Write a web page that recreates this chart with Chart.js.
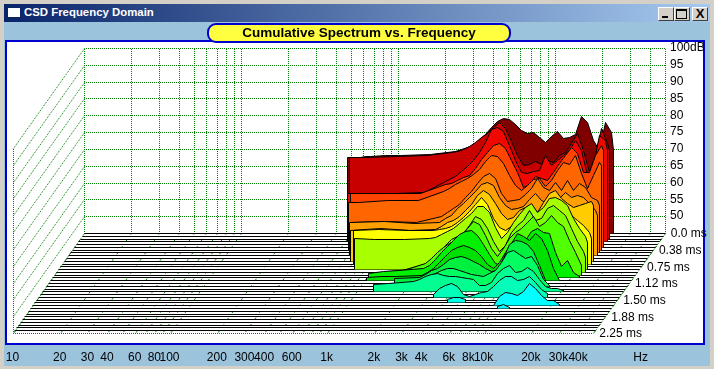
<!DOCTYPE html>
<html>
<head>
<meta charset="utf-8">
<title>CSD Frequency Domain</title>
<script src="https://cdn.jsdelivr.net/npm/chart.js@4"></script>
<style>
html,body{margin:0;padding:0;background:#d4d0c8;overflow:hidden}
#win{position:absolute;left:0;top:0;width:714px;height:369px;background:#d4d0c8;overflow:hidden}
#bar{position:absolute;left:4px;top:4px;width:706px;height:18px;background:linear-gradient(to right,#0a246a,#a6caf0)}
#bar span{position:absolute;left:20px;top:2px;font:bold 11.4px "Liberation Sans",sans-serif;color:#fff;white-space:nowrap}
#ico{position:absolute;left:3px;top:3px;width:12px;height:9px;background:#fff;border:1px solid #0a246a;border-bottom:2px solid #0a246a}
.btn{position:absolute;top:3px;width:14px;height:12px;background:#d4d0c8;border:1px solid;border-color:#fff #404040 #404040 #fff}
#min{left:654px}#max{left:670px}#cls{left:688px}
#min i{position:absolute;left:3px;top:8px;width:6px;height:2px;background:#000}
#max i{position:absolute;left:1px;top:1px;width:9px;height:7px;border:1px solid #000;border-top:2px solid #000}
#cls i{position:absolute;left:0;top:-2px;width:14px;text-align:center;font:bold 13px "Liberation Sans",sans-serif;color:#000}
#body{position:absolute;left:4px;top:22px;width:706px;height:344px;background:#9cc3dc}
#box{position:absolute;left:5px;top:40px;width:696px;height:301px;background:#fff;border:2px solid #0000cc}
#pill{position:absolute;left:207px;top:23px;width:300px;height:16px;padding:0;background:#ffff40;border:2px solid #0000cc;border-radius:9px;text-align:center;font:bold 13.5px/16px "Liberation Sans",sans-serif;color:#000}
canvas{position:absolute;left:0;top:0}
</style>
</head>
<body>
<div id="win">
	<div id="bar"><div id="ico"></div><span>CSD Frequency Domain</span>
		<div class="btn" id="min"><i></i></div><div class="btn" id="max"><i></i></div><div class="btn" id="cls"><i>X</i></div>
	</div>
	<div id="body"></div>
	<div id="box"></div>
	<canvas id="myChart" width="714" height="369"></canvas>
	<div id="pill">Cumulative Spectrum vs. Frequency</div>
</div>
<script>
const N = null;

// axis labels
const freqTicks = [10,20,30,40,60,80,100,200,300,400,600,1000,2000,3000,4000,6000,8000,10000,20000,30000,40000,100000];
const freqLabels = ['10','20','30','40','60','80','100','200','300','400','600','1k','2k','3k','4k','6k','8k','10k','20k','30k','40k','Hz'];
const dbTicks = [50,55,60,65,70,75,80,85,90,95,100];
const timeTicks = [0,0.375,0.75,1.125,1.5,1.875,2.25];
const timeLabels = ['0.0 ms','0.38 ms','0.75 ms','1.12 ms','1.50 ms','1.88 ms','2.25 ms'];

// green grid
const gridFreqs = [10,20,30,40,50,60,70,80,90,100,200,300,400,500,600,700,800,900,1000,2000,3000,4000,5000,6000,7000,8000,9000,10000,20000,30000,40000,50000];
const gridDb = [45,50,55,60,65,70,75,80,85,90,95,100];

// frequency of each spectrum sample, Hz
const sampleFreqs = [473,517,573,617,663,714,769,826,1030,1282,1600,
	2306,2520,2750,3000,3280,3581,3912,4273,4666,5093,5562,6074,6634,7244,7911,8635,9430,10300,11250,12280,13410,14640,15990,17460,19060,20820,22730,23400];

// level in dB per slice (slice number = 0.0625 ms steps)
const slice00 = [67.6,67.6,67.7,67.8,67.9,N,N,68.2,68.2,N,68.6,
	69.4,70.0,70.6,71.2,72.9,74.4,76.5,78.3,79.2,78.9,77.4,75.6,74.7,75.0,73.5,72.1,73.8,75.3,73.2,73.5,74.4,79.8,78.0,72.6,69.7,78.0,75.0,69.7];
const slice02 = [N,69.1,N,N,69.3,N,N,N,69.4,N,69.9,
	70.7,71.0,71.6,72.5,73.7,75.2,76.4,78.2,79.7,77.9,74.0,69.9,66.9,67.2,68.1,67.2,68.4,67.8,69.9,70.7,73.4,76.4,71.3,64.8,69.9,77.9,73.4,71.3];
const slice03 = [N,59.4,N,N,59.4,N,N,N,59.4,N,59.7,
	63.5,64.4,65.9,67.4,69.2,71.5,74.5,78.4,79.0,77.8,73.6,69.2,65.6,65.3,65.9,66.2,70.7,67.7,69.2,70.7,72.1,75.1,72.1,64.7,67.7,76.6,75.1,72.1];
const slice05 = [N,N,60.9,N,60.9,N,N,N,60.9,N,60.9,
	63.7,64.0,64.9,65.8,66.4,68.5,71.1,73.2,75.3,75.9,74.4,70.8,67.3,62.8,63.7,66.1,65.5,64.9,67.3,69.9,72.3,74.7,72.9,67.3,67.3,72.3,75.3,73.8];
const slice06 = [N,N,59.2,N,59.3,N,N,N,59.8,N,59.9,
	62.5,63.3,64.5,65.4,66.3,67.5,69.0,71.4,73.2,72.9,70.8,67.2,64.2,62.8,64.2,66.0,66.3,63.9,65.7,68.7,71.1,70.5,73.2,67.8,63.3,67.2,71.1,70.2];
const slice07 = [N,N,N,54.1,N,N,N,N,54.4,N,54.1,
	55.9,57.0,58.2,59.4,61.5,63.3,65.7,67.7,68.6,67.1,62.7,60.3,60.6,60.9,62.4,64.2,67.1,64.5,63.6,66.0,63.6,66.6,63.6,65.7,64.5,61.5,60.6,59.1];
const slice08 = [N,N,N,54.9,N,N,N,N,55.2,N,54.6,
	54.9,56.1,57.0,59.0,60.5,62.3,64.1,66.2,66.8,65.9,62.3,59.9,58.7,59.0,59.6,61.7,63.5,61.4,60.5,62.3,62.0,63.8,62.3,62.9,62.3,60.5,58.4,57.0];
const slice10 = [N,N,N,N,54.2,N,N,N,54.8,N,54.2,
	54.5,55.3,56.5,57.1,58.3,60.1,61.9,64.6,66.0,64.9,62.2,59.2,57.4,58.0,60.1,61.0,61.9,59.5,62.5,65.2,66.0,63.7,62.2,60.9,61.5,62.1,62.8,61.6];
const slice11 = [N,N,N,N,N,55.0,N,N,55.3,N,55.0,
	55.0,55.3,55.6,56.2,57.4,58.9,60.6,62.7,64.8,62.7,58.6,55.9,55.0,56.2,58.9,60.9,61.8,59.7,59.4,62.4,63.9,62.4,61.5,59.4,57.9,56.5,54.4,52.6];
const slice13 = [N,N,N,N,N,N,54.2,N,54.1,N,54.1,
	54.2,54.5,55.4,56.3,57.2,58.7,60.2,61.7,63.8,63.8,62.0,57.5,54.2,56.0,59.0,61.4,63.5,64.7,62.0,63.5,66.1,66.4,65.5,64.1,60.2,57.2,54.8,53.1];
const slice14 = [N,N,N,N,N,N,N,N,N,45.3,45.6,
	47.6,49.1,50.9,53.0,54.8,55.7,56.6,59.0,61.6,60.7,58.0,54.2,51.3,53.0,56.9,59.0,60.4,63.4,60.4,61.0,64.0,64.9,63.4,61.9,58.0,54.2,51.3,49.5];
const slice15 = [N,N,N,N,N,N,N,N,N,45.8,46.1,
	48.5,50.0,51.7,53.2,54.4,55.3,56.8,58.9,61.0,60.1,56.8,52.9,50.6,52.9,55.9,57.7,58.9,60.7,62.5,59.5,60.7,62.7,60.7,59.5,55.3,51.7,47.9,N];
const slice16 = [N,N,N,N,N,N,N,N,46.3,46.9,47.2,
	47.8,48.7,50.5,52.6,54.4,56.1,57.9,58.8,59.1,57.6,55.0,52.0,49.3,48.7,50.8,54.4,56.7,56.1,58.8,59.7,58.5,58.2,52.6,48.4,50.2,46.6,45.4,N];
const slice17 = [N,N,N,N,N,N,N,N,46.0,46.3,46.4,
	46.6,47.5,48.7,50.4,52.2,54.0,54.9,55.5,54.9,54.0,52.2,49.8,48.7,50.4,53.4,56.1,59.1,58.2,57.0,59.1,57.6,54.0,48.7,45.1,N,N,N,N];
const slice18 = [N,N,N,N,N,N,N,N,N,N,46.5,
	46.8,47.7,48.9,49.5,50.6,52.1,52.7,53.0,52.4,51.5,50.6,49.5,48.6,48.9,52.4,56.6,57.8,57.5,56.6,54.5,50.4,45.9,N,N,N,N,N,N];
const slice19 = [N,N,N,N,N,N,N,N,N,N,N,
	N,46.4,47.9,48.8,49.7,50.3,50.3,49.7,49.1,48.5,48.2,47.9,48.8,49.7,52.1,55.0,55.6,54.5,53.3,53.9,51.3,47.1,45.2,N,N,N,N,N];
const slice21 = [N,N,N,N,N,N,N,N,N,47.2,47.5,
	48.1,48.7,49.6,50.2,50.5,49.9,49.6,49.6,49.3,49.0,48.7,46.9,46.9,47.8,50.5,52.0,52.8,50.8,51.1,52.2,51.1,48.7,46.6,46.0,46.0,45.4,N,N];
const slice23 = [N,N,N,N,N,N,N,N,N,N,N,
	N,N,N,N,45.9,47.6,48.5,49.1,48.2,45.9,45.3,45.9,46.5,46.8,48.2,50.0,51.2,51.2,50.0,50.3,51.2,49.4,47.3,46.2,N,N,N,N];
const slice25 = [N,N,N,N,N,N,N,N,N,N,N,
	N,N,N,N,N,N,N,45.9,46.5,46.6,45.9,N,N,N,N,N,N,N,N,N,N,N,N,N,N,N,N,N];
const slice26 = [N,N,N,N,N,N,N,N,N,N,N,
	N,N,N,N,N,N,N,N,N,N,N,N,N,N,N,45.1,47.8,49.0,48.7,48.1,49.3,51.6,50.1,48.1,46.6,46.6,45.4,N];
const slice27 = [N,N,N,N,N,N,N,N,N,N,N,
	N,N,N,N,N,N,N,N,N,N,N,N,N,N,N,N,45.6,46.1,45.3,N,N,N,N,N,N,N,N,N];

const sliceNumbers = [0,2,3,5,6,7,8,10,11,13,14,15,16,17,18,19,21,23,25,26,27];
const sliceValues = [slice00,slice02,slice03,slice05,slice06,slice07,slice08,slice10,slice11,slice13,slice14,slice15,slice16,slice17,slice18,slice19,slice21,slice23,slice25,slice26,slice27];
const sliceColors = ['#800000','#c80000','#f00800','#ff4400','#ff6600','#ff8000','#ffa000','#ffcc00','#ffff00','#a8ff00','#80ff00','#50ff00','#00f000','#00e000','#00f040','#00ff60','#00ff90','#00ffb8','#00ffe8','#00ffff','#00ffff'];

const FLOOR_DB = 45;
const LAST_SLICE = 36;   // 2.25 ms
const MS_PER_SLICE = 0.0625;
const DEPTH_DECADES = 0.4554;  // sideways shift of the back wall on the log axis
const DEPTH_DB = 29.73;        // how far the front floor sits under the back floor
const LABEL_FONT = '"Liberation Sans",sans-serif';

// oblique projection, all in axis units
function plotX(f, slice){ return f * Math.pow(10, DEPTH_DECADES * (LAST_SLICE - slice) / LAST_SLICE); }
function plotY(db, slice){ return db - DEPTH_DB * slice / LAST_SLICE; }

function gridLine(points){
	return {data: points, borderColor:'#008000', borderWidth:1, borderDash:[1,1], borderDashOffset:0.5, fill:false, showLine:true, pointRadius:0, clip:false};
}

const datasets = [];

// back wall, left wall, floor grid
gridFreqs.forEach(f => {
	datasets.push(gridLine([{x:plotX(f,0),y:plotY(FLOOR_DB,0)},{x:plotX(f,0),y:plotY(100,0)}]));
	const d = gridLine([{x:plotX(f,0),y:plotY(FLOOR_DB,0)},{x:plotX(f,LAST_SLICE),y:plotY(FLOOR_DB,LAST_SLICE)}]);
	d.borderDash = [2,6];
	datasets.push(d);
});
gridDb.forEach(db => {
	datasets.push(gridLine([{x:plotX(10,0),y:plotY(db,0)},{x:plotX(50000,0),y:plotY(db,0)}]));
	datasets.push(gridLine([{x:plotX(10,0),y:plotY(db,0)},{x:plotX(10,LAST_SLICE),y:plotY(db,LAST_SLICE)}]));
});
datasets.push(gridLine([{x:plotX(10,LAST_SLICE),y:plotY(FLOOR_DB,LAST_SLICE)},{x:plotX(10,LAST_SLICE),y:plotY(100,LAST_SLICE)}]));
datasets.push(gridLine([{x:plotX(10,LAST_SLICE),y:plotY(FLOOR_DB,LAST_SLICE)},{x:plotX(50000,LAST_SLICE),y:plotY(FLOOR_DB,LAST_SLICE)}]));
datasets.push(gridLine([{x:plotX(50000,0),y:plotY(FLOOR_DB,0)},{x:plotX(50000,LAST_SLICE),y:plotY(FLOOR_DB,LAST_SLICE)}]));

// black floor lines
for(let s = 0; s < LAST_SLICE; s++){
	datasets.push({data:[{x:plotX(10,s),y:plotY(FLOOR_DB,s)},{x:plotX(50000,s),y:plotY(FLOOR_DB,s)}],
		borderColor:'#000', borderWidth:1, fill:false, showLine:true, pointRadius:0, clip:false});
}

// spectrum slices, back to front
sliceValues.forEach((values, i) => {
	const s = sliceNumbers[i];
	const pts = [];
	values.forEach((db, j) => {
		if(db !== null){ pts.push({x:plotX(sampleFreqs[j],s), y:plotY(db,s)}); }
	});
	pts.unshift({x:pts[0].x, y:plotY(FLOOR_DB,s)});
	pts.push({x:pts[pts.length-1].x, y:plotY(FLOOR_DB,s)});
	datasets.push({data:pts, borderColor:'#000', borderWidth:1, backgroundColor:sliceColors[i], fill:'shape', showLine:true, pointRadius:0, tension:0, clip:false});
});

// later entries have to paint on top
datasets.forEach((d, i) => { d.order = datasets.length - i; });

// snap everything to the pixel grid, the original has no smoothing
const snapPlugin = {
	id:'snap',
	afterDatasetsUpdate(chart){
		chart.data.datasets.forEach((d, i) => {
			chart.getDatasetMeta(i).data.forEach(p => {
				p.x = Math.round(p.x) + 0.5;
				p.y = Math.round(p.y) + 0.5;
			});
		});
	}
};

const timeLabelPlugin = {
	id:'timeLabels',
	afterDraw(chart){
		const c = chart.ctx;
		c.save();
		c.font = '12px ' + LABEL_FONT;
		c.fillStyle = '#000';
		c.textBaseline = 'middle';
		timeTicks.forEach((t, i) => {
			const s = t / MS_PER_SLICE;
			c.fillText(timeLabels[i], chart.scales.x.getPixelForValue(plotX(50000,s)) + 6, chart.scales.y.getPixelForValue(plotY(FLOOR_DB,s)) + 1);
		});
		c.restore();
	}
};

const ctx = document.getElementById('myChart').getContext('2d');
ctx.letterSpacing = '-1px'; // tick labels in the original are squeezed
const myChart = new Chart(ctx, {
	type:'scatter',
	data:{datasets:datasets},
	plugins:[snapPlugin, timeLabelPlugin],
	options:{
		responsive:false,
		animation:false,
		events:[],
		layout:{autoPadding:false, padding:{left:12.5, top:48, right:0, bottom:0}},
		plugins:{legend:{display:false}, tooltip:{enabled:false}},
		scales:{
			x:{
				type:'logarithmic',
				min:10,
				max:143000,
				grid:{display:false, drawTicks:false},
				border:{display:false},
				afterFit(scale){ scale.height = 36; scale.paddingLeft = 0; scale.paddingRight = 0; },
				afterBuildTicks(scale){ scale.ticks = freqTicks.map(v => ({value:v})); },
				ticks:{
					autoSkip:false, maxRotation:0, minRotation:0, padding:17, color:'#000',
					font:{family:LABEL_FONT, size:12},
					callback:function(v){ return freqLabels[freqTicks.indexOf(v)]; }
				}
			},
			y:{
				position:'right',
				min:15.27,
				max:100,
				grid:{display:false, drawTicks:false},
				border:{display:false},
				afterFit(scale){ scale.width = 49; scale.paddingTop = 0; scale.paddingBottom = 0; },
				afterBuildTicks(scale){ scale.ticks = dbTicks.map(v => ({value:v})); },
				ticks:{
					autoSkip:false, padding:5, color:'#000',
					font:{family:LABEL_FONT, size:12},
					callback:function(v){ return v === 100 ? '100dB' : String(v); }
				}
			}
		}
	}
});
</script>
</body>
</html>
